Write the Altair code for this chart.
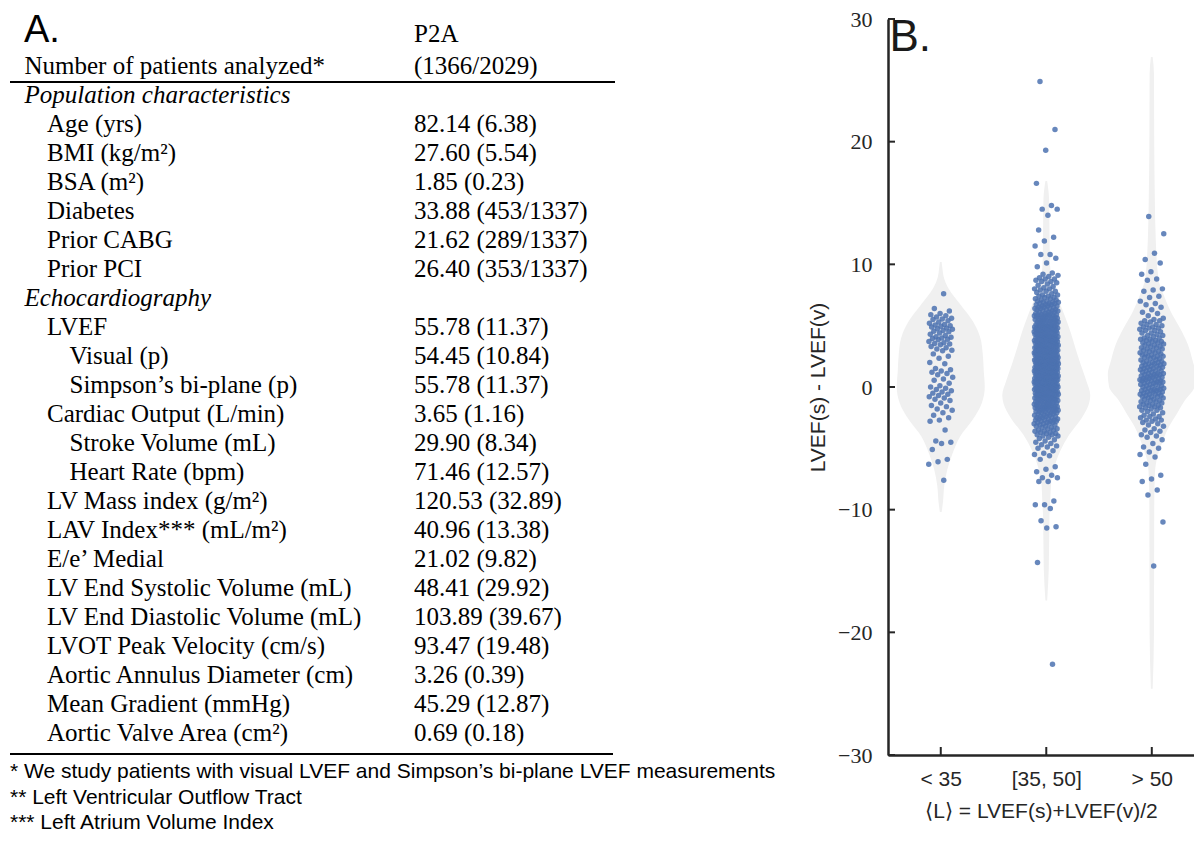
import altair as alt
import pandas as pd

# ---------------- Panel A : table ----------------
panel_letters = ["A.", "B."]
header_label = "Number of patients analyzed*"
header_values = ["P2A", "(1366/2029)"]

row_labels = [
    "Population characteristics", "Age (yrs)", "BMI (kg/m²)", "BSA (m²)", "Diabetes",
    "Prior CABG", "Prior PCI", "Echocardiography", "LVEF", "Visual (p)",
    "Simpson’s bi-plane (p)", "Cardiac Output (L/min)", "Stroke Volume (mL)",
    "Heart Rate (bpm)", "LV Mass index (g/m²)", "LAV Index*** (mL/m²)", "E/e’ Medial",
    "LV End Systolic Volume (mL)", "LV End Diastolic Volume (mL)",
    "LVOT Peak Velocity (cm/s)", "Aortic Annulus Diameter (cm)", "Mean Gradient (mmHg)",
    "Aortic Valve Area (cm²)",
]
row_values = [
    "", "82.14 (6.38)", "27.60 (5.54)", "1.85 (0.23)", "33.88 (453/1337)",
    "21.62 (289/1337)", "26.40 (353/1337)", "", "55.78 (11.37)", "54.45 (10.84)",
    "55.78 (11.37)", "3.65 (1.16)", "29.90 (8.34)", "71.46 (12.57)", "120.53 (32.89)",
    "40.96 (13.38)", "21.02 (9.82)", "48.41 (29.92)", "103.89 (39.67)", "93.47 (19.48)",
    "3.26 (0.39)", "45.29 (12.87)", "0.69 (0.18)",
]
row_indent = [0, 1, 1, 1, 1, 1, 1, 0, 1, 2, 2, 1, 2, 2, 1, 1, 1, 1, 1, 1, 1, 1, 1]

footnotes = [
    "* We study patients with visual LVEF and Simpson’s bi-plane LVEF measurements",
    "** Left Ventricular Outflow Tract",
    "*** Left Atrium Volume Index",
]

# ---------------- Panel B : violins + strips ----------------
categories = ["< 35", "[35, 50]", "> 50"]
y_ticks = [-30, -20, -10, 0, 10, 20, 30]
x_title = "⟨L⟩ = LVEF(s)+LVEF(v)/2"
y_title = "LVEF(s) - LVEF(v)"

diff_lt35 = [
    7.6, 6.4, 6.2, 6.0, 5.9, 5.8, 5.7, 5.6, 5.55, 5.5, 5.4, 5.3, 5.2, 5.1, 5.05, 5.0,
    4.95, 4.9, 4.8, 4.75, 4.7, 4.6, 4.55, 4.5, 4.4, 4.3, 4.2, 4.1, 4.05, 4.0, 3.95, 3.9,
    3.85, 3.7, 3.6, 3.55, 3.5, 3.45, 3.3, 3.2, 3.1, 3.0, 2.95, 2.7, 2.5, 2.35, 2.0, 1.9,
    1.5, 1.4, 1.3, 1.2, 1.1, 1.0, 0.8, 0.65, 0.55, 0.3, 0.1, 0.0, -0.1, -0.2, -0.3, -0.4,
    -0.5, -0.6, -0.7, -0.8, -0.9, -1.0, -1.1, -1.3, -1.5, -1.6, -1.8, -1.9, -2.1, -2.3,
    -2.5, -2.7, -2.8, -3.5, -4.4, -4.5, -4.6, -5.1, -5.9, -6.1, -6.3, -7.6,
]

diff_mid = [
    24.9, 21.0, 19.3, 16.6, 14.8, 14.5, 14.5, 14.0, 12.8, 12.2, 11.9, 11.5, 10.8, 10.8,
    10.5, 10.1, 9.8, 9.3, 9.2, 9.1, 9.0, 8.9, 8.8, 8.8, 8.7, 8.6, 8.6, 8.5, 8.4, 8.3,
    8.2, 8.1, 8.0, 8.0, 7.9, 7.8, 7.8, 7.7, 7.6, 7.5, 7.5,
    7.4, 7.4, 7.3, 7.3, 7.2, 7.2, 7.1, 7.1, 7.0, 7.0,
    6.9, 6.9, 6.9, 6.8, 6.8, 6.8, 6.7, 6.7, 6.7, 6.6, 6.6, 6.6, 6.5, 6.5, 6.5,
    6.4, 6.4, 6.4, 6.3, 6.3, 6.3, 6.2, 6.2, 6.2, 6.1, 6.1, 6.1, 6.0, 6.0, 6.0,
    5.9, 5.9, 5.9, 5.9, 5.8, 5.8, 5.8, 5.8, 5.7, 5.7, 5.7, 5.7, 5.6, 5.6, 5.6, 5.6,
    5.5, 5.5, 5.5, 5.5, 5.4, 5.4, 5.4, 5.4, 5.3, 5.3, 5.3, 5.3, 5.2, 5.2, 5.2, 5.2,
    5.1, 5.1, 5.1, 5.1, 5.0, 5.0, 5.0, 5.0,
    4.9, 4.9, 4.9, 4.9, 4.9, 4.8, 4.8, 4.8, 4.8, 4.8, 4.7, 4.7, 4.7, 4.7, 4.7,
    4.6, 4.6, 4.6, 4.6, 4.6, 4.5, 4.5, 4.5, 4.5, 4.5, 4.4, 4.4, 4.4, 4.4, 4.4,
    4.3, 4.3, 4.3, 4.3, 4.3, 4.2, 4.2, 4.2, 4.2, 4.2, 4.1, 4.1, 4.1, 4.1, 4.1,
    4.0, 4.0, 4.0, 4.0, 4.0,
    3.9, 3.9, 3.9, 3.9, 3.9, 3.8, 3.8, 3.8, 3.8, 3.8, 3.7, 3.7, 3.7, 3.7, 3.7,
    3.6, 3.6, 3.6, 3.6, 3.6, 3.5, 3.5, 3.5, 3.5, 3.5, 3.4, 3.4, 3.4, 3.4, 3.4,
    3.3, 3.3, 3.3, 3.3, 3.3, 3.2, 3.2, 3.2, 3.2, 3.2, 3.1, 3.1, 3.1, 3.1, 3.1,
    3.0, 3.0, 3.0, 3.0, 3.0,
    2.9, 2.9, 2.9, 2.9, 2.9, 2.9, 2.8, 2.8, 2.8, 2.8, 2.8, 2.8, 2.7, 2.7, 2.7, 2.7, 2.7, 2.7,
    2.6, 2.6, 2.6, 2.6, 2.6, 2.6, 2.5, 2.5, 2.5, 2.5, 2.5, 2.5, 2.4, 2.4, 2.4, 2.4, 2.4, 2.4,
    2.3, 2.3, 2.3, 2.3, 2.3, 2.3, 2.2, 2.2, 2.2, 2.2, 2.2, 2.2, 2.1, 2.1, 2.1, 2.1, 2.1, 2.1,
    2.0, 2.0, 2.0, 2.0, 2.0, 2.0,
    1.9, 1.9, 1.9, 1.9, 1.9, 1.9, 1.8, 1.8, 1.8, 1.8, 1.8, 1.8, 1.7, 1.7, 1.7, 1.7, 1.7, 1.7,
    1.6, 1.6, 1.6, 1.6, 1.6, 1.6, 1.5, 1.5, 1.5, 1.5, 1.5, 1.5, 1.4, 1.4, 1.4, 1.4, 1.4, 1.4,
    1.3, 1.3, 1.3, 1.3, 1.3, 1.3, 1.2, 1.2, 1.2, 1.2, 1.2, 1.2, 1.1, 1.1, 1.1, 1.1, 1.1, 1.1,
    1.0, 1.0, 1.0, 1.0, 1.0, 1.0,
    0.9, 0.9, 0.9, 0.9, 0.9, 0.9, 0.8, 0.8, 0.8, 0.8, 0.8, 0.8, 0.7, 0.7, 0.7, 0.7, 0.7, 0.7,
    0.6, 0.6, 0.6, 0.6, 0.6, 0.6, 0.5, 0.5, 0.5, 0.5, 0.5, 0.5, 0.4, 0.4, 0.4, 0.4, 0.4, 0.4,
    0.3, 0.3, 0.3, 0.3, 0.3, 0.3, 0.2, 0.2, 0.2, 0.2, 0.2, 0.2, 0.1, 0.1, 0.1, 0.1, 0.1, 0.1,
    0.0, 0.0, 0.0, 0.0, 0.0, 0.0,
    -0.1, -0.1, -0.1, -0.1, -0.1, -0.2, -0.2, -0.2, -0.2, -0.2, -0.3, -0.3, -0.3, -0.3, -0.3,
    -0.4, -0.4, -0.4, -0.4, -0.4, -0.5, -0.5, -0.5, -0.5, -0.5, -0.6, -0.6, -0.6, -0.6, -0.6,
    -0.7, -0.7, -0.7, -0.7, -0.7, -0.8, -0.8, -0.8, -0.8, -0.8, -0.9, -0.9, -0.9, -0.9, -0.9,
    -1.0, -1.0, -1.0, -1.0, -1.0,
    -1.1, -1.1, -1.1, -1.1, -1.2, -1.2, -1.2, -1.2, -1.3, -1.3, -1.3, -1.3, -1.4, -1.4, -1.4, -1.4,
    -1.5, -1.5, -1.5, -1.5, -1.6, -1.6, -1.6, -1.6, -1.7, -1.7, -1.7, -1.7, -1.8, -1.8, -1.8, -1.8,
    -1.9, -1.9, -1.9, -1.9, -2.0, -2.0, -2.0, -2.0,
    -2.1, -2.1, -2.1, -2.2, -2.2, -2.2, -2.3, -2.3, -2.3, -2.4, -2.4, -2.4, -2.5, -2.5, -2.5,
    -2.6, -2.6, -2.6, -2.7, -2.7, -2.7, -2.8, -2.8, -2.8, -2.9, -2.9, -2.9, -3.0, -3.0, -3.0,
    -3.1, -3.1, -3.2, -3.2, -3.3, -3.3, -3.4, -3.4, -3.5, -3.5, -3.6, -3.6, -3.7, -3.7,
    -3.8, -3.8, -3.9, -3.9, -4.0, -4.0,
    -4.1, -4.2, -4.3, -4.4, -4.5, -4.6, -4.7, -4.8, -4.9, -5.0, -5.2, -5.4, -5.5, -5.6,
    -5.9, -6.5, -6.7, -6.9, -7.2, -7.4, -7.4, -7.7, -7.7, -9.3, -9.6, -9.6, -9.9, -10.9,
    -11.4, -11.5, -14.3, -22.6,
]

diff_gt50 = [
    13.9, 12.5, 10.9, 10.4, 10.1, 9.4, 9.2, 8.8, 8.7, 8.0, 7.9, 7.8, 7.4, 7.3, 7.0, 6.8,
    6.7, 6.5, 6.3, 6.1, 6.0, 5.8, 5.6,
    5.5, 5.4, 5.4, 5.3, 5.2, 5.1, 5.1, 5.0,
    4.9, 4.9, 4.8, 4.8, 4.7, 4.6, 4.6, 4.5, 4.4, 4.4, 4.3, 4.2, 4.2, 4.1, 4.0, 4.0,
    3.9, 3.9, 3.8, 3.8, 3.7, 3.7, 3.6, 3.6, 3.5, 3.5, 3.4, 3.4, 3.3, 3.3, 3.2, 3.2,
    3.1, 3.1, 3.0, 3.0,
    2.9, 2.9, 2.8, 2.8, 2.7, 2.7, 2.6, 2.6, 2.5, 2.5, 2.5, 2.4, 2.4, 2.3, 2.3, 2.2,
    2.2, 2.1, 2.1, 2.0, 2.0, 2.0,
    1.9, 1.9, 1.9, 1.8, 1.8, 1.7, 1.7, 1.7, 1.6, 1.6, 1.5, 1.5, 1.5, 1.4, 1.4, 1.3,
    1.3, 1.3, 1.2, 1.2, 1.1, 1.1, 1.1, 1.0, 1.0, 1.0,
    0.9, 0.9, 0.9, 0.8, 0.8, 0.8, 0.7, 0.7, 0.7, 0.6, 0.6, 0.6, 0.5, 0.5, 0.5, 0.4,
    0.4, 0.4, 0.3, 0.3, 0.3, 0.2, 0.2, 0.2, 0.1, 0.1, 0.0, 0.0,
    -0.1, -0.1, -0.1, -0.2, -0.2, -0.2, -0.3, -0.3, -0.3, -0.4, -0.4, -0.4, -0.5, -0.5,
    -0.6, -0.6, -0.6, -0.7, -0.7, -0.8, -0.8, -0.8, -0.9, -0.9, -1.0, -1.0,
    -1.1, -1.1, -1.2, -1.2, -1.3, -1.3, -1.4, -1.4, -1.5, -1.5, -1.6, -1.6, -1.7, -1.7,
    -1.8, -1.9, -1.9, -2.0,
    -2.1, -2.2, -2.3, -2.4, -2.4, -2.5, -2.6, -2.7, -2.7, -2.8, -2.9, -3.0,
    -3.1, -3.2, -3.4, -3.5, -3.6, -3.7, -3.9, -4.0,
    -4.1, -4.3, -4.6, -4.9, -5.0, -5.3, -5.5, -5.7, -6.3, -7.2, -7.5, -7.7, -8.4, -8.8,
    -11.0, -14.6,
]

# violin outlines: value and relative half-width (1 = widest)
violin_lt35_v = [10.2, 9.6, 9.0, 8.0, 6.7, 5.35, 4.0, 2.66, 1.32, 0.0, -1.34, -2.69,
                 -4.03, -5.4, -6.7, -8.06, -9.4, -10.2]
violin_lt35_d = [0.02, 0.04, 0.064, 0.18, 0.45, 0.73, 0.9, 0.955, 0.977, 1.0, 0.93, 0.72,
                 0.44, 0.27, 0.15, 0.08, 0.05, 0.02]
violin_mid_v = [16.8, 15.3, 12.5, 9.9, 8.5, 7.2, 5.9, 4.5, 3.2, 1.85, 0.5, -0.7, -1.37,
                -2.5, -3.9, -5.2, -6.6, -7.8, -9.4, -10.5, -14.8, -17.4]
violin_mid_d = [0.02, 0.064, 0.073, 0.086, 0.15, 0.27, 0.41, 0.55, 0.66, 0.78, 0.91, 1.0,
                0.97, 0.81, 0.52, 0.32, 0.18, 0.11, 0.09, 0.073, 0.057, 0.02]
violin_gt50_v = [26.9, 25.5, 20.0, 15.6, 12.0, 8.85, 7.5, 6.15, 4.8, 3.47, 2.12, 1.05, 0.0,
                 -1.1, -2.18, -3.25, -4.6, -5.94, -7.3, -10.0, -20.0, -24.6]
violin_gt50_d = [0.02, 0.05, 0.055, 0.068, 0.09, 0.15, 0.27, 0.43, 0.64, 0.82, 0.93, 1.0,
                 0.97, 0.75, 0.57, 0.39, 0.23, 0.11, 0.068, 0.055, 0.05, 0.02]

# ---------------- build tables ----------------
SERIF = "Liberation Serif"
SANS = "Liberation Sans"
INK = "#262626"

tbl = pd.DataFrame({
    "label": row_labels,
    "value": row_values,
    "indent": row_indent,
    "row": list(range(len(row_labels))),
})
tbl["style"] = ["italic" if i == 0 else "normal" for i in row_indent]
hdr = pd.DataFrame({
    "label": ["", header_label],
    "value": header_values,
    "indent": [0, 0],
    "row": [-2.1, -1.0],
    "style": ["normal", "normal"],
})
table_df = pd.concat([hdr, tbl], ignore_index=True)

row_scale = alt.Scale(domain=[0, 22], range=[95, 733], zero=False, nice=False)
indent_scale = alt.Scale(domain=[0, 2], range=[16.5, 61.5], zero=False, nice=False)

base_tbl = alt.Chart(table_df)
text_kw = dict(font=SERIF, fontSize=25, align="left", baseline="alphabetic", color="black")
lab_normal = base_tbl.transform_filter("datum.style == 'normal'").mark_text(**text_kw).encode(
    x=alt.X("indent:Q", scale=indent_scale, axis=None),
    y=alt.Y("row:Q", scale=row_scale, axis=None),
    text="label:N",
)
lab_italic = base_tbl.transform_filter("datum.style == 'italic'").mark_text(
    fontStyle="italic", **text_kw
).encode(
    x=alt.X("indent:Q", scale=indent_scale, axis=None),
    y=alt.Y("row:Q", scale=row_scale, axis=None),
    text="label:N",
)
val_col = base_tbl.mark_text(**text_kw).encode(
    x=alt.value(406),
    y=alt.Y("row:Q", scale=row_scale, axis=None),
    text="value:N",
)

one = pd.DataFrame({"k": [0]})
rule_top = alt.Chart(one).mark_rule(color="black", strokeWidth=2).encode(
    x=alt.value(2), x2=alt.value(607), y=alt.value(74))
rule_bot = alt.Chart(one).mark_rule(color="black", strokeWidth=2).encode(
    x=alt.value(2), x2=alt.value(605), y=alt.value(746))

foot_df = pd.DataFrame({"text": footnotes, "line": list(range(len(footnotes)))})
foot = alt.Chart(foot_df).mark_text(
    font=SANS, fontSize=21, align="left", baseline="alphabetic", color="black"
).encode(
    x=alt.value(2),
    y=alt.Y("line:Q", scale=alt.Scale(domain=[0, 2], range=[770, 821], zero=False, nice=False), axis=None),
    text="text:N",
)

letter_a = alt.Chart(pd.DataFrame({"t": [panel_letters[0]]})).mark_text(
    font=SANS, fontSize=38, align="left", baseline="alphabetic", color="black"
).encode(x=alt.value(16), y=alt.value(34), text="t:N")

# ---------------- right panel ----------------
pts_df = pd.DataFrame({
    "cat": [0] * len(diff_lt35) + [1] * len(diff_mid) + [2] * len(diff_gt50),
    "v": diff_lt35 + diff_mid + diff_gt50,
})
viol_df = pd.DataFrame({
    "cat": [0] * len(violin_lt35_v) + [1] * len(violin_mid_v) + [2] * len(violin_gt50_v),
    "v": violin_lt35_v + violin_mid_v + violin_gt50_v,
    "d": violin_lt35_d + violin_mid_d + violin_gt50_d,
})
cat_df = pd.DataFrame({"ci": list(range(len(categories))), "name": categories})
tick_df = pd.DataFrame({"t": y_ticks})

xs = alt.Scale(domain=[-0.5, 2.4], range=[880, 1186], zero=False, nice=False)
ys = alt.Scale(domain=[-30, 30], range=[747, 11], zero=False, nice=False)

label_expr = "[" + ", ".join("'" + c + "'" for c in categories) + "][datum.value]"

y_axis = alt.Axis(
    orient="left", offset=-880, values=y_ticks, ticks=False, grid=False, format="d",
    domainColor=INK, domainWidth=2.5, labelFont=SERIF, labelFontSize=22,
    labelColor=INK, labelPadding=16, labelFlush=False, title=y_title, titleFont=SANS,
    titleFontSize=21, titleFontWeight="normal", titleColor=INK, titlePadding=9,
)
x_axis = alt.Axis(
    orient="bottom", offset=-79, values=list(range(len(categories))), labelExpr=label_expr,
    ticks=False, grid=False, domainColor=INK, domainWidth=2.5, labelFont=SANS,
    labelFontSize=21, labelColor=INK, labelPadding=13, labelAngle=0, labelFlush=False,
    title=x_title, titleFont=SANS, titleFontSize=21, titleFontWeight="normal",
    titleColor=INK, titlePadding=11,
)

VMAX = 0.417  # widest violin half-width, in category units
violin = alt.Chart(viol_df).transform_calculate(
    xl=f"datum.cat - datum.d * {VMAX}", xr=f"datum.cat + datum.d * {VMAX}"
).mark_area(orient="horizontal", interpolate="monotone", color="#f0f0f0", opacity=1).encode(
    y=alt.Y("v:Q", scale=ys, axis=y_axis),
    x=alt.X("xl:Q", scale=xs, axis=x_axis),
    x2="xr:Q",
    detail="cat:N",
)

points = alt.Chart(pts_df).transform_window(idx="row_number()").transform_calculate(
    xj="datum.cat + ((datum.idx * 0.6180339887) % 1 - 0.5) * 0.23"
).mark_circle(size=30, color="#4c72b0", opacity=0.85).encode(
    x=alt.X("xj:Q", scale=xs, axis=None),
    y=alt.Y("v:Q", scale=ys, axis=None),
)

ytick_layer = alt.Chart(tick_df).mark_rule(color=INK, strokeWidth=2).encode(
    y=alt.Y("t:Q", scale=ys, axis=None), x=alt.value(880), x2=alt.value(887))
xtick_layer = alt.Chart(cat_df).mark_rule(color=INK, strokeWidth=2).encode(
    x=alt.X("ci:Q", scale=xs, axis=None), y=alt.value(747), y2=alt.value(739))

letter_b = alt.Chart(pd.DataFrame({"t": [panel_letters[1]]})).mark_text(
    font=SANS, fontSize=44, align="left", baseline="alphabetic", color="#1a1a1a"
).encode(x=alt.value(881.5), y=alt.value(43), text="t:N")

chart = alt.layer(
    violin, points, ytick_layer, xtick_layer, letter_b,
    lab_normal, lab_italic, val_col, rule_top, rule_bot, foot, letter_a,
).resolve_scale(
    x="independent", y="independent"
).properties(
    width=1186, height=826, padding=0,
    autosize=alt.AutoSizeParams(type="none"),
).configure_view(stroke=None)

chart.save("out.html", embed_options={"renderer": "svg", "actions": False})
